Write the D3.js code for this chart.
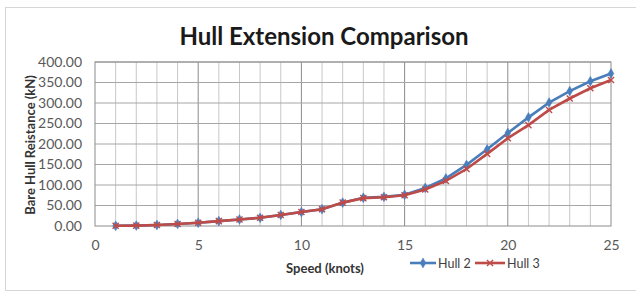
<!DOCTYPE html>
<html>
<head>
<meta charset="utf-8">
<script src="https://cdn.jsdelivr.net/npm/d3@7"></script>
<style>
  body { margin: 0; background: #fff; }
  svg { display: block; font-family: Lato, "Open Sans", sans-serif; }
</style>
</head>
<body>
<svg id="chart" width="636" height="298"></svg>
<script>
const speeds = [1, 2, 3, 4, 5, 6, 7, 8, 9, 10, 11, 12, 13, 14, 15, 16, 17, 18, 19, 20, 21, 22, 23, 24, 25];
const hull2 = [0.5, 1, 2.5, 5, 8, 12, 16, 20, 27, 34, 41, 57, 69, 71, 76, 93, 116, 149, 187, 227, 265, 301, 329, 353, 372];
const hull3 = [0.5, 1, 2.5, 5, 8, 12, 16, 20, 27, 34, 41, 57, 68, 70, 75, 89, 110, 139, 176, 214, 246, 283, 311, 336, 356];
const xTicks = [0, 5, 10, 15, 20, 25];
const yTicks = [0, 50, 100, 150, 200, 250, 300, 350, 400];

const series = [
  { name: "Hull 2", values: hull2, color: "#4a7ebb", marker: "diamond" },
  { name: "Hull 3", values: hull3, color: "#be4b48", marker: "cross" },
];

const svg = d3.select("#chart");
const margin = { top: 62, right: 25, bottom: 72, left: 95 };
const width = 636 - margin.left - margin.right;
const height = 298 - margin.top - margin.bottom;

// outer chart frame
svg.append("rect")
  .attr("x", 5.5).attr("y", 7.5)
  .attr("width", 640).attr("height", 283)
  .attr("fill", "none").attr("stroke", "#d6d6d6");

svg.append("text")
  .attr("x", 324).attr("y", 45)
  .attr("text-anchor", "middle")
  .attr("font-size", 24).attr("font-weight", "bold")
  .attr("fill", "#1a1a1a")
  .text("Hull Extension Comparison");

const chart = svg.append("g")
  .attr("transform", `translate(${margin.left}, ${margin.top})`);

const x = d3.scaleLinear().domain([0, 25]).range([0, width]);
const y = d3.scaleLinear().domain([0, 400]).range([height, 0]);

// minor vertical grid every knot
chart.append("g")
  .selectAll("line")
  .data(d3.range(1, 25))
  .join("line")
  .attr("x1", (d) => x(d)).attr("x2", (d) => x(d))
  .attr("y1", 0).attr("y2", height)
  .attr("stroke", (d) => (d % 5 === 0 ? "#8c8c8c" : "#c8c8c8"))
  .attr("stroke-width", 1);

// horizontal grid
chart.append("g")
  .selectAll("line")
  .data(yTicks.slice(1))
  .join("line")
  .attr("x1", 0).attr("x2", width)
  .attr("y1", (d) => y(d)).attr("y2", (d) => y(d))
  .attr("stroke", "#a6a6a6");

chart.append("rect")
  .attr("width", width).attr("height", height)
  .attr("fill", "none").attr("stroke", "#8c8c8c");

const yAxisG = chart.append("g")
  .call(d3.axisLeft(y).tickValues(yTicks).tickSize(0).tickPadding(13).tickFormat(d3.format(".2f")));
yAxisG.select(".domain").remove();
yAxisG.selectAll("text")
  .attr("font-size", 14).attr("fill", "#595959")
  .attr("font-family", "Lato, sans-serif");

const xAxisG = chart.append("g")
  .attr("transform", `translate(0, ${height})`)
  .call(d3.axisBottom(x).tickValues(xTicks).tickSize(0).tickPadding(14));
xAxisG.select(".domain").remove();
xAxisG.selectAll("text")
  .attr("font-size", 14).attr("fill", "#595959")
  .attr("font-family", "Lato, sans-serif");

const line = d3.line()
  .x((d, i) => x(speeds[i]))
  .y((d) => y(d));

const diamond = d3.symbol().type(d3.symbolDiamond).size(28);
const cross = d3.symbol().type(d3.symbolX).size(26);

series.forEach((s) => {
  chart.append("path")
    .datum(s.values)
    .attr("fill", "none")
    .attr("stroke", s.color)
    .attr("stroke-width", 2.6)
    .attr("d", line);

  chart.append("g")
    .selectAll("path")
    .data(s.values)
    .join("path")
    .attr("transform", (d, i) => `translate(${x(speeds[i])}, ${y(d)})`)
    .attr("d", s.marker === "diamond" ? diamond : cross)
    .attr("fill", s.color)
    .attr("stroke", s.color)
    .attr("stroke-width", s.marker === "diamond" ? 0.5 : 1.4);
});

// axis titles
svg.append("text")
  .attr("transform", `translate(35, ${margin.top + height / 2 + 1}) rotate(-90)`)
  .attr("text-anchor", "middle")
  .attr("font-size", 13).attr("font-weight", "bold")
  .attr("fill", "#333")
  .text("Bare Hull Reistance (kN)");

svg.append("text")
  .attr("x", 325).attr("y", 273)
  .attr("text-anchor", "middle")
  .attr("font-size", 13).attr("font-weight", "bold")
  .attr("fill", "#333")
  .text("Speed (knots)");

// legend
const legend = svg.append("g").attr("transform", "translate(410, 263)");
const legendX = [0, 65];
const legendLen = [26, 30];
series.forEach((s, i) => {
  const g = legend.append("g").attr("transform", `translate(${legendX[i]}, 0)`);
  g.append("line")
    .attr("x1", 0).attr("x2", legendLen[i])
    .attr("stroke", s.color).attr("stroke-width", 2.6);
  g.append("path")
    .attr("transform", `translate(${legendLen[i] / 2}, 0)`)
    .attr("d", s.marker === "diamond" ? diamond : cross)
    .attr("fill", s.color).attr("stroke", s.color)
    .attr("stroke-width", s.marker === "diamond" ? 0.5 : 1.4);
  g.append("text")
    .attr("x", legendLen[i] + 2).attr("y", 4.5)
    .attr("font-size", 12.5).attr("fill", "#404040")
    .text(s.name);
});
</script>
</body>
</html>
